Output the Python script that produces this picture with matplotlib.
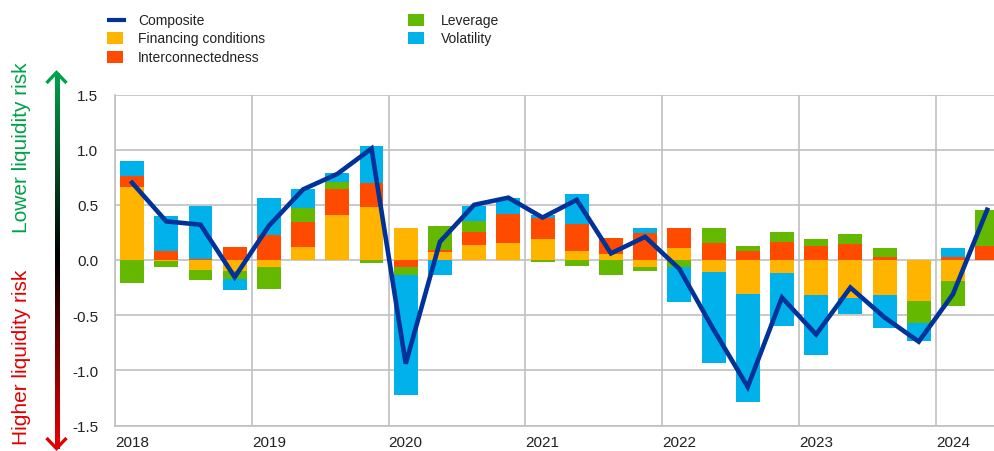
import numpy as np
import matplotlib
matplotlib.use("Agg")
import matplotlib.pyplot as plt
from matplotlib.collections import LineCollection
from matplotlib.lines import Line2D
from matplotlib.patches import Rectangle
import matplotlib.colors as mcolors

# ---------------- data ----------------
quarters = ["2018Q1", "2018Q2", "2018Q3", "2018Q4",
            "2019Q1", "2019Q2", "2019Q3", "2019Q4",
            "2020Q1", "2020Q2", "2020Q3", "2020Q4",
            "2021Q1", "2021Q2", "2021Q3", "2021Q4",
            "2022Q1", "2022Q2", "2022Q3", "2022Q4",
            "2023Q1", "2023Q2", "2023Q3", "2023Q4",
            "2024Q1", "2024Q2"]
year_labels = ["2018", "2019", "2020", "2021", "2022", "2023", "2024"]

financing = [0.66, -0.01, -0.09, -0.10, -0.065, 0.12, 0.41, 0.48,
             0.29, 0.075, 0.14, 0.155, 0.187, 0.08, 0.05, -0.065,
             0.105, -0.11, -0.31, -0.115, -0.32, -0.34, -0.32, -0.37,
             -0.19, 0.0]
interconnectedness = [0.105, 0.085, 0.01, 0.12, 0.23, 0.22, 0.23, 0.22,
                      -0.065, 0.02, 0.115, 0.26, 0.19, 0.245, 0.145, 0.247,
                      0.185, 0.154, 0.085, 0.163, 0.13, 0.142, 0.024, 0.0,
                      0.024, 0.13]
leverage = [-0.205, -0.055, -0.095, -0.07, -0.195, 0.13, 0.07, -0.025,
            -0.07, 0.215, 0.10, 0.0, -0.02, -0.05, -0.135, -0.035,
            -0.065, 0.136, 0.045, 0.093, 0.057, 0.093, 0.081, -0.20,
            -0.23, 0.325]
volatility = [0.13, 0.315, 0.48, -0.10, 0.33, 0.175, 0.08, 0.33,
              -1.09, -0.14, 0.13, 0.15, 0.03, 0.27, 0.005, 0.045,
              -0.32, -0.82, -0.975, -0.485, -0.54, -0.15, -0.30, -0.16,
              0.081, 0.0]
composite = [0.70, 0.35, 0.32, -0.155, 0.31, 0.64, 0.78, 1.01,
             -0.94, 0.165, 0.50, 0.565, 0.385, 0.545, 0.06, 0.21,
             -0.08, -0.63, -1.15, -0.34, -0.675, -0.25, -0.52, -0.74,
             -0.31, 0.455]

series_names = ["Financing conditions", "Interconnectedness", "Leverage", "Volatility"]
series_vals = [financing, interconnectedness, leverage, volatility]
series_cols = ["#FFB400", "#FF4B00", "#65B800", "#00B1EA"]
comp_col = "#003299"

# ---------------- figure ----------------
W, H = 994, 452
fig = plt.figure(figsize=(W / 100, H / 100), dpi=100)
plt.rcParams['font.family'] = ['Liberation Sans', 'DejaVu Sans']

def fx(x):
    return x / W

def fy(y):
    return 1 - y / H

ax_left, ax_right, ax_top, ax_bot = 115, 994, 95.5, 426.5
ax = fig.add_axes([fx(ax_left), fy(ax_bot), fx(ax_right - ax_left), (ax_bot - ax_top) / H])

x = np.arange(len(quarters)) + 0.5
pos_base = np.zeros(len(x))
neg_base = np.zeros(len(x))
for name, vals, col in zip(series_names, series_vals, series_cols):
    v = np.array(vals, dtype=float)
    bottoms = np.where(v >= 0, pos_base, neg_base)
    ax.bar(x, v, bottom=bottoms, width=0.7, color=col, zorder=2, linewidth=0)
    pos_base += np.where(v >= 0, v, 0)
    neg_base += np.where(v < 0, v, 0)

ax.plot(x, composite, color=comp_col, lw=3.3, zorder=3, solid_joinstyle='miter')

ax.set_xlim(0, 25.7)
ax.set_ylim(-1.5, 1.5)
ax.set_yticks(np.arange(-1.5, 1.51, 0.5))
ax.set_yticklabels([f"{t:.1f}" for t in np.arange(-1.5, 1.51, 0.5)])
ax.set_xticks(np.arange(0, 25, 4))
ax.set_xticklabels([])
ax.set_xticks(np.arange(0, 25, 4) + 0.5, minor=True)
ax.set_xticklabels(year_labels, minor=True)
ax.tick_params(axis='x', which='both', length=0, pad=7, labelsize=11, labelcolor='#222222')
ax.tick_params(axis='y', length=0, pad=12, labelsize=11, labelcolor='#222222')
ax.grid(True, which='major', color='#C0C0C0', lw=1.2, zorder=0)
ax.set_axisbelow(True)
for s in ['top', 'right']:
    ax.spines[s].set_visible(False)
for s in ['left', 'bottom']:
    ax.spines[s].set_color('#C0C0C0')
    ax.spines[s].set_linewidth(1.2)

# ---------------- left gradient arrow ----------------
green = np.array(mcolors.to_rgb("#00A14B"))
red = np.array(mcolors.to_rgb("#E00000"))
black = np.array([0, 0, 0])
ax_x = 56.5
ys = np.linspace(75, 448, 200)
segs, cols = [], []
for y0, y1 in zip(ys[:-1], ys[1:]):
    ym = (y0 + y1) / 2
    if ym < 255:
        t = (ym - 75) / (255 - 75)
        c = green * (1 - t) + black * t
    elif ym < 262:
        c = black
    else:
        t = (ym - 262) / (440 - 262)
        t = min(max(t, 0), 1)
        c = black * (1 - t) + red * t
    segs.append([(fx(ax_x), fy(y0 - 0.6)), (fx(ax_x), fy(y1 + 0.6))])
    cols.append(c)
lc = LineCollection(segs, colors=cols, linewidths=2.4, transform=fig.transFigure,
                    capstyle='butt', antialiased=False)
fig.add_artist(lc)
fig.add_artist(Line2D([fx(46.5), fx(ax_x), fx(66.5)], [fy(84), fy(73.5), fy(84)],
                      color=green, lw=2.4, transform=fig.transFigure,
                      solid_joinstyle='miter', solid_capstyle='butt'))
fig.add_artist(Line2D([fx(46.5), fx(ax_x), fx(66.5)], [fy(439), fy(449.5), fy(439)],
                      color=red, lw=2.4, transform=fig.transFigure,
                      solid_joinstyle='miter', solid_capstyle='butt'))

fig.text(fx(22), fy(148), "Lower liquidity risk", rotation=90, ha='center', va='center',
         fontsize=15, color="#00A14B")
fig.text(fx(22), fy(357), "Higher liquidity risk", rotation=90, ha='center', va='center',
         fontsize=15, color="#E00000")

# ---------------- legend ----------------
leg_font = ['Liberation Sans', 'DejaVu Sans']
leg_fs = 10
rows_y = [20.5, 39, 58]
fig.add_artist(Line2D([fx(107), fx(126)], [fy(rows_y[0]), fy(rows_y[0])], color=comp_col,
                      lw=3.0, transform=fig.transFigure, solid_capstyle='butt'))
fig.text(fx(138), fy(rows_y[0]), "Composite", ha='left', va='center', fontsize=leg_fs,
         family=leg_font, color='#222222')
entries = [(107, 138, rows_y[1], 0), (107, 138, rows_y[2], 1),
           (408, 441, rows_y[0], 2), (408, 441, rows_y[1], 3)]
for hx, tx, ry, idx in entries:
    fig.add_artist(Rectangle((fx(hx), fy(ry + 6)), fx(16), 12 / H, color=series_cols[idx],
                             transform=fig.transFigure, lw=0))
    fig.text(fx(tx), fy(ry), series_names[idx], ha='left', va='center', fontsize=leg_fs,
             family=leg_font, color='#222222')

fig.savefig("out.png", dpi=100)
